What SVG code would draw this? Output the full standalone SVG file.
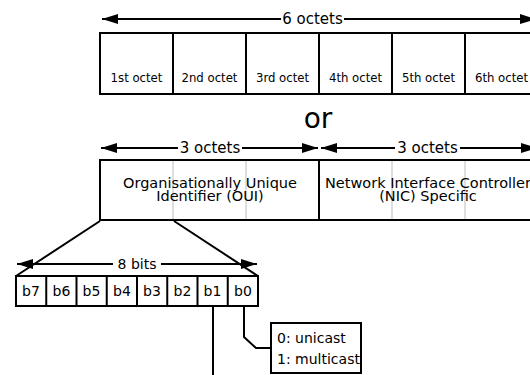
<svg xmlns="http://www.w3.org/2000/svg" width="530" height="375" viewBox="0 0 530 375">
<defs>
<style>
.t{font-family:"DejaVu Sans","Liberation Sans",sans-serif;fill:#000}
.c{font-family:"DejaVu Sans Condensed","DejaVu Sans","Liberation Sans Narrow",sans-serif;font-stretch:condensed;fill:#000}
.box{fill:#fff;stroke:#000;stroke-width:2}
.ln{stroke:#000;stroke-width:2;fill:none}
.lt{stroke:#c8c8c8;stroke-width:1.2}
</style>
<marker id="ahb" markerWidth="16" markerHeight="10" viewBox="0 0 16 10" refX="16" refY="5" orient="auto-start-reverse" markerUnits="userSpaceOnUse">
<path d="M0,0 L16,5 L0,10 Z" fill="#000"/>
</marker>
</defs>
<rect width="530" height="375" fill="#fff"/>

<g id="octets">
<rect class="box" x="100" y="33" width="440" height="61"/>
<path class="ln" d="M173,33V94M246,33V94M319,33V94M392,33V94M465,33V94"/>
<g class="c" font-size="13" text-anchor="middle">
<text x="136.5" y="81.5">1st octet</text>
<text x="209.5" y="81.5">2nd octet</text>
<text x="282.5" y="81.5">3rd octet</text>
<text x="355.5" y="81.5">4th octet</text>
<text x="428.5" y="81.5">5th octet</text>
<text x="501.5" y="81.5">6th octet</text>
</g>
</g>

<g id="or">
<text class="t" x="318" y="128" font-size="28" text-anchor="middle">or</text>
</g>

<g id="oui-nic">
<rect class="box" x="100" y="160" width="440" height="60"/>
<path class="lt" d="M173,161V219M246,161V219M392,161V219M465,161V219"/>
<path class="ln" d="M319,160V220"/>
<g class="t" font-size="14.5" text-anchor="middle">
<text x="210" y="187.5">Organisationally Unique</text>
<text x="210" y="201">Identifier (OUI)</text>
<text x="428" y="187.5">Network Interface Controller</text>
<text x="428" y="201">(NIC) Specific</text>
</g>
</g>

<g id="bits">
<rect class="box" x="16" y="276" width="242" height="30"/>
<path class="ln" d="M46.25,276V306M76.5,276V306M106.75,276V306M137,276V306M167.25,276V306M197.5,276V306M227.75,276V306"/>
<g class="t" font-size="14" text-anchor="middle">
<text x="31" y="296">b7</text>
<text x="61.5" y="296">b6</text>
<text x="91.5" y="296">b5</text>
<text x="122" y="296">b4</text>
<text x="152" y="296">b3</text>
<text x="182.5" y="296">b2</text>
<text x="212.5" y="296">b1</text>
<text x="243" y="296">b0</text>
</g>
</g>

<g id="cast">
<rect class="box" x="271" y="323" width="90" height="50"/>
<g class="t" font-size="14">
<text x="277" y="343">0: unicast</text>
<text x="277" y="364">1: multicast</text>
</g>
</g>

<g id="connectors">
<path class="ln" d="M281,19H102" marker-end="url(#ahb)"/>
<path class="ln" d="M344,19H536" marker-end="url(#ahb)"/>
<text class="t" x="312.5" y="24" font-size="15" text-anchor="middle">6 octets</text>

<path class="ln" d="M178,148H101" marker-end="url(#ahb)"/>
<path class="ln" d="M242,148H318" marker-end="url(#ahb)"/>
<text class="t" x="210" y="153" font-size="15" text-anchor="middle">3 octets</text>
<path class="ln" d="M395,148H321" marker-end="url(#ahb)"/>
<path class="ln" d="M460,148H537" marker-end="url(#ahb)"/>
<text class="t" x="427.5" y="153" font-size="15" text-anchor="middle">3 octets</text>

<path class="ln" d="M100,221L16,276"/>
<path class="ln" d="M174,221L258,276"/>
<path class="ln" d="M113,264H17" marker-end="url(#ahb)"/>
<path class="ln" d="M161,264H257" marker-end="url(#ahb)"/>
<text class="t" x="137" y="269" font-size="14" text-anchor="middle">8 bits</text>

<path class="ln" d="M213,306V375"/>
<path class="ln" d="M244,306V337L256,348H271"/>
</g>
</svg>
